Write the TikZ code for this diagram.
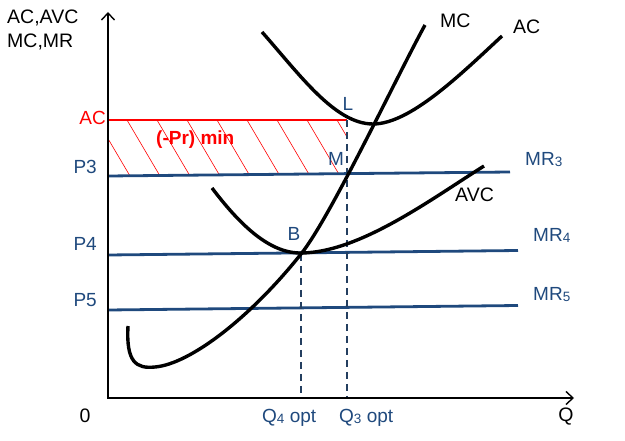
\documentclass[tikz,border=0pt]{standalone}
\usepackage{fontspec}
\setmainfont{Liberation Sans}
\usetikzlibrary{arrows.meta}
\definecolor{dblue}{HTML}{1F497D}
\definecolor{gblue}{HTML}{243F60}
\begin{document}
\begin{tikzpicture}[x=1pt,y=-1pt,
  axisline/.style={line width=1.4pt, black},
  curve/.style={line width=3.4pt, black},
  mrline/.style={dblue, line width=2.8pt},
  guide/.style={gblue, line width=1.8pt, dash pattern=on 7pt off 5pt},
  hatchline/.style={red, line width=0.6pt},
  lbl/.style={font=\fontsize{19.5}{21}\selectfont, inner sep=0pt},
  blbl/.style={font=\fontsize{19}{20}\selectfont, inner sep=0pt, text=dblue},
  rlbl/.style={font=\fontsize{19}{20}\selectfont, inner sep=0pt, text=red}]
\useasboundingbox (0,0) rectangle (625,441);
% key coordinates
\coordinate (O) at (108,398);
\coordinate (Ytop) at (108,12);
\coordinate (Xend) at (574,398);
\coordinate (ACl) at (108,120);
\coordinate (L) at (347,120);
\coordinate (P3l) at (108,176);
\coordinate (P3r) at (510,172);
\coordinate (P4l) at (108,255);
\coordinate (P4r) at (518,250.5);
\coordinate (P5l) at (108,310);
\coordinate (P5r) at (518,305.5);
\coordinate (Q3) at (347,398);
\coordinate (Q4) at (301,398);
\coordinate (Bpt) at (301,254);
% hatched loss area
\begin{scope}
  \clip (108,120) rectangle (347,175);
  \foreach \x in {67,97,...,367} \draw[hatchline] (\x,120) -- ++(33,56);
\end{scope}
\draw[red, line width=2pt] (ACl) -- (L);
% price lines
\draw[mrline] (P3l) -- (P3r);
\draw[mrline] (P4l) -- (P4r);
\draw[mrline] (P5l) -- (P5r);
% dashed guides
\draw[guide] (L) -- (Q3);
\draw[guide] (Bpt) -- (Q4);
% axes
\draw[axisline, {Straight Barb[length=7pt,width=13pt]}-{Straight Barb[length=7pt,width=13pt]}] (Ytop) -- (O) -- (Xend);
% curves
\draw[curve] (128,326) .. controls (126,362) and (136,369) .. (155,367)
  .. controls (190,364) and (250,318) .. (301,254)
  .. controls (330,218) and (395,80) .. (425,25);
\draw[curve] (262,32) .. controls (300,75) and (335,124) .. (373,124)
  .. controls (410,124) and (460,75) .. (502,36);
\draw[curve] (212,188) .. controls (240,225) and (270,254) .. (302,253)
  .. controls (360,252) and (430,200) .. (484,166);
% labels
\node[lbl, anchor=west] (ytitle1) at (7,18) {AC,AVC};
\node[lbl, anchor=west] (ytitle2) at (7,42) {MC,MR};
\node[lbl] (zero) at (85,416) {0};
\node[lbl] (qlab) at (566,417) {Q};
\node[rlbl, anchor=east] (aclab) at (106,118) {AC};
\node[rlbl, font=\fontsize{19}{20}\selectfont\bfseries, anchor=west] (loss) at (156,140) {(-Pr) min};
\node[blbl, anchor=east] (p3) at (97,167) {P3};
\node[blbl, anchor=east] (p4) at (97,244) {P4};
\node[blbl, anchor=east] (p5) at (97,300) {P5};
\node[blbl, anchor=west] (mr3) at (525,160) {MR\raisebox{-1pt}{\fontsize{13.5}{14}\selectfont 3}};
\node[blbl, anchor=west] (mr4) at (533,235) {MR\raisebox{-1pt}{\fontsize{13.5}{14}\selectfont 4}};
\node[blbl, anchor=west] (mr5) at (533,295) {MR\raisebox{-1pt}{\fontsize{13.5}{14}\selectfont 5}};
\node[lbl, anchor=west] (mclab) at (440,21) {MC};
\node[lbl, anchor=west] (aclab2) at (513,27) {AC};
\node[lbl, anchor=west] (avclab) at (455,195) {AVC};
\node[blbl] (llab) at (348,104) {L};
\node[blbl] (mlab) at (336,159) {M};
\node[blbl] (blab) at (294,234) {B};
\node[blbl, anchor=west] (q4lab) at (262,418) {Q\raisebox{-1pt}{\fontsize{13.5}{14}\selectfont 4} opt};
\node[blbl, anchor=west] (q3lab) at (339,418) {Q\raisebox{-1pt}{\fontsize{13.5}{14}\selectfont 3} opt};
\end{tikzpicture}
\end{document}
